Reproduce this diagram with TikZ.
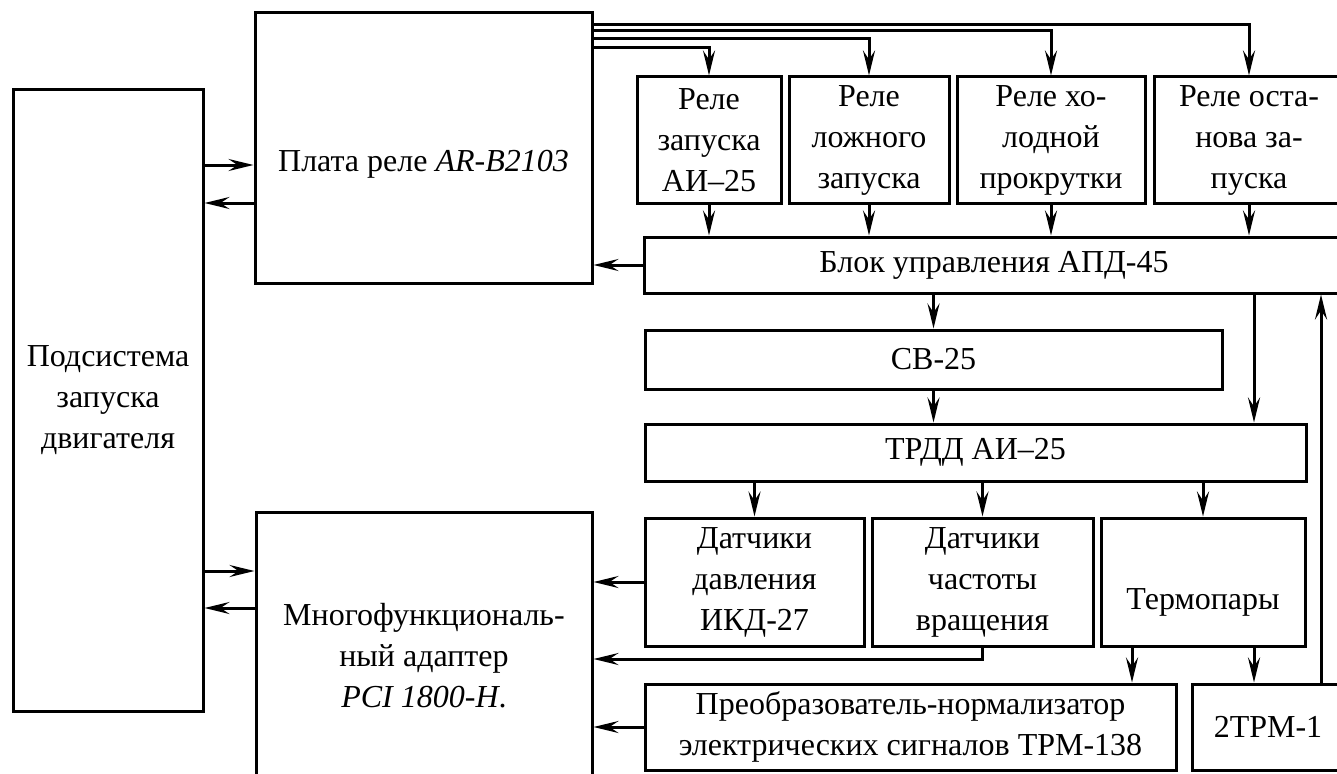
\documentclass[tikz,border=0pt]{standalone}
\usepackage{fontspec}
\setmainfont{Liberation Serif}
\usetikzlibrary{arrows.meta}
\tikzset{blk/.style={draw, line width=3pt, inner sep=2pt, align=center, font=\fontsize{32}{41}\selectfont}}
\begin{document}
\begin{tikzpicture}[x=1pt, y=-1pt, line width=3pt, >={Stealth[length=25pt, width=12pt, inset=9pt]}]
	\useasboundingbox (0,0) rectangle (1337,773);
	\clip (0,0) rectangle (1337,773);
	\fill[white] (0,0) rectangle (1337,773);
	\node[blk, minimum width=190pt, minimum height=621pt] (sub) at (108,400.5) {Подсистема\\запуска\\двигателя};
	\node[blk, minimum width=337pt, minimum height=270pt] (plate) at (423.5,148) {\raisebox{-16pt}[\height][\depth]{Плата реле \textit{AR-B2103}}};
	\node[blk, minimum width=336pt, minimum height=288pt] (adp) at (424,656) {Многофункциональ-\\ный адаптер\\\textit{PCI 1800-H}.};
	\node[blk, minimum width=144pt, minimum height=126pt] (rz) at (709,140) {Реле\\запуска\\АИ–25};
	\node[blk, minimum width=160pt, minimum height=126pt] (rl) at (869,140) {Реле\\ложного\\запуска};
	\node[blk, minimum width=188pt, minimum height=126pt] (rh) at (1051,140) {Реле хо-\\лодной\\прокрутки};
	\node[blk, minimum width=190pt, minimum height=126pt] (ro) at (1249,140) {Реле оста-\\нова за-\\пуска};
	\node[blk, minimum width=700pt, minimum height=56pt] (apd) at (994,265) {Блок управления АПД-45};
	\node[blk, minimum width=577pt, minimum height=59pt] (sv) at (933.5,359.5) {СВ-25};
	\node[blk, minimum width=661pt, minimum height=57pt] (trdd) at (975.5,452.5) {ТРДД АИ–25};
	\node[blk, minimum width=219pt, minimum height=128pt] (dd) at (754.5,582) {Датчики\\давления\\ИКД-27};
	\node[blk, minimum width=221pt, minimum height=128pt] (dch) at (982.5,582) {Датчики\\частоты\\вращения};
	\node[blk, minimum width=204pt, minimum height=128pt] (tp) at (1203,582) {\raisebox{-20pt}[\height][\depth]{Термопары}};
	\node[blk, minimum width=531pt, minimum height=86pt] (pn) at (910.5,727) {Преобразователь-нормализатор\\электрических сигналов ТРМ-138};
	\node[blk, minimum width=152pt, minimum height=86pt] (trm) at (1268,727) {2ТРМ-1};
	\draw[->] (sub.east |- 0,165) -- (plate.west |- 0,165);
	\draw[->] (plate.west |- 0,203) -- (sub.east |- 0,203);
	\draw[->] (sub.east |- 0,571) -- (adp.west |- 0,571);
	\draw[->] (adp.west |- 0,608) -- (sub.east |- 0,608);
	\draw[->] (plate.east |- 0,48) -| (rz.north);
	\draw[->] (plate.east |- 0,39) -| (rl.north);
	\draw[->] (plate.east |- 0,31) -| (rh.north);
	\draw[->] (plate.east |- 0,25) -| (ro.north);
	\foreach \r in {rz,rl,rh,ro}
		\draw[->] (\r.south) -- (\r.south |- apd.north);
	\draw[->] (apd.west) -- (plate.east |- apd.west);
	\draw[->] (sv.north |- apd.south) -- (sv.north);
	\draw[->] (sv.south) -- (sv.south |- trdd.north);
	\draw[->] (apd.south -| 1254,0) -- (trdd.north -| 1254,0);
	\foreach \d in {dd,dch,tp}
		\draw[->] (\d.north |- trdd.south) -- (\d.north);
	\draw[->] (dd.west) -- (adp.east |- dd.west);
	\draw[->] (dch.south) |- (adp.east |- 0,659);
	\draw[->] (pn.west) -- (adp.east |- pn.west);
	\draw[->] (tp.south -| 1132,0) -- (pn.north -| 1132,0);
	\draw[->] (tp.south -| 1254,0) -- (trm.north -| 1254,0);
	\draw[->] (trm.north -| 1321,0) -- (apd.south -| 1321,0);
\end{tikzpicture}
\end{document}
